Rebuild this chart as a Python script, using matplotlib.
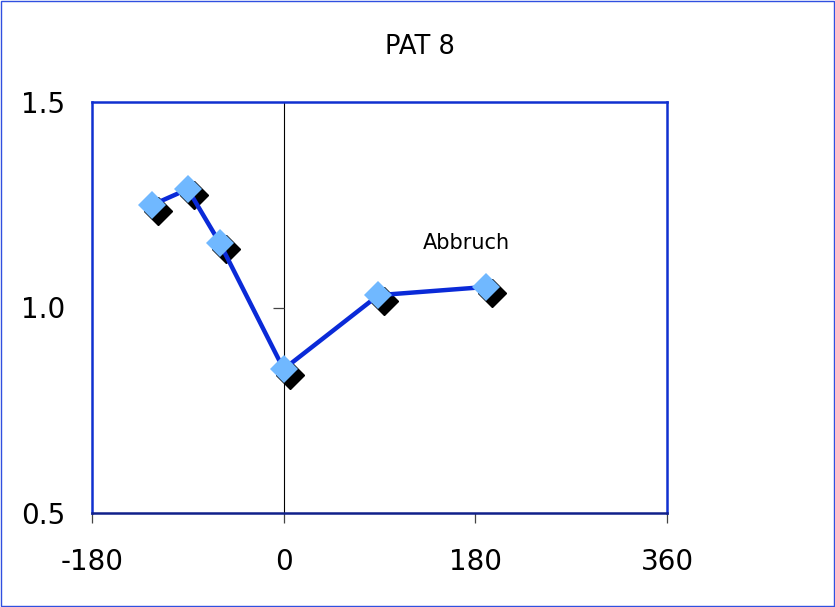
import numpy as np
import matplotlib.pyplot as plt
import matplotlib.transforms as mtransforms
from matplotlib.patches import Rectangle
from matplotlib.lines import TICKLEFT

# Werte
winkel = [-124, -90, -60, 0, 89, 190]
werte = [1.249, 1.288, 1.157, 0.850, 1.030, 1.050]
xticks = [-180, 0, 180, 360]
yticks = [0.5, 1.0, 1.5]
ytick_labels = ['0.5', '1.0', '1.5']

linie = '#0a2ad8'
punkt = '#70b8ff'
rahmen = '#1030d0'

fig = plt.figure(figsize=(8.35, 6.07), dpi=100)
ax = fig.add_axes([92/835, 1-513/607, 575/835, 411/607])

# Rahmen um die ganze Grafik
fig.patches.append(Rectangle((0.001, 0.001), 0.998, 0.998, transform=fig.transFigure,
                             fill=False, edgecolor='#3050e0', linewidth=1))

ax.set_xlim(-180, 360)
ax.set_ylim(0.5, 1.5)

for s in ax.spines.values():
    s.set_color(rahmen)
    s.set_linewidth(1.8)
ax.spines['bottom'].set_color('#10208a')

# senkrechte Achse bei 0
ax.axvline(0, color='black', linewidth=0.8, zorder=1)
ax.plot([0], yticks[1:2], linestyle='none', marker=TICKLEFT,
        markersize=8, color='#444444', markeredgewidth=0.9, clip_on=False)

# Schatten der Punkte
schatten = ax.transData + mtransforms.ScaledTranslation(6/100, -6/100, fig.dpi_scale_trans)
ax.plot(winkel, werte, linestyle='none', marker='D', markersize=14.5, color='black',
        transform=schatten, zorder=2)
ax.plot(winkel, werte, color=linie, linewidth=3.2, zorder=3)
ax.plot(winkel, werte, linestyle='none', marker='D', markersize=14.5, color=punkt,
        markeredgewidth=0, zorder=4)

ax.set_xticks(xticks)
ax.set_xticklabels([str(v) for v in xticks])
ax.set_yticks(yticks)
ax.set_yticklabels(ytick_labels)
ax.tick_params(axis='x', direction='out', length=7, width=0.9, color='#444444',
               labelsize=20, pad=18)
ax.tick_params(axis='y', length=0, labelsize=20, pad=19)

ax.text(172, 1.157, 'Abbruch', fontsize=15, ha='center', va='center')
fig.text(0.503, 1-47/607, 'PAT 8', fontsize=18.5, ha='center', va='center')

fig.savefig('out.png', dpi=100)
